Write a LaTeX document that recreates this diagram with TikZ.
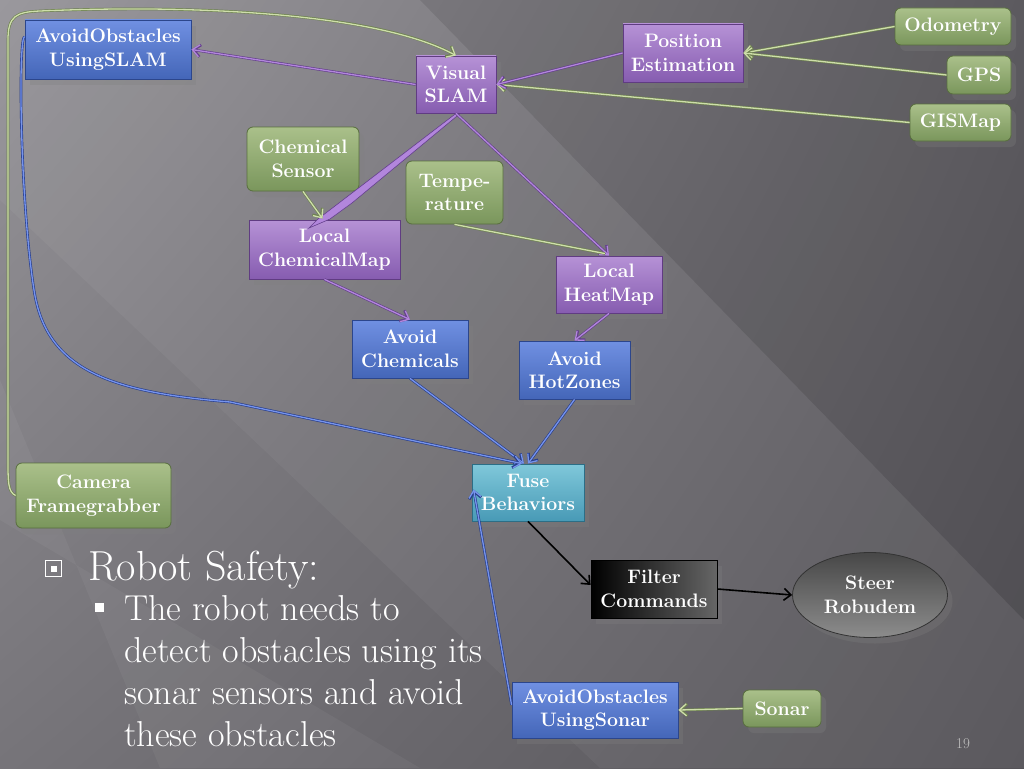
\documentclass[tikz,border=0pt]{standalone}
\usepackage{fontspec}
\usetikzlibrary{shapes.geometric,arrows.meta,shadows,shadings,calc}
\definecolor{bgA}{RGB}{150,148,153}
\definecolor{bgB}{RGB}{118,116,121}
\definecolor{bgC}{RGB}{98,96,101}
\definecolor{bgD}{RGB}{84,82,87}
\definecolor{pTop}{RGB}{182,146,214}
\definecolor{pBot}{RGB}{134,92,176}
\definecolor{pEdge}{RGB}{96,60,130}
\definecolor{bTop}{RGB}{112,144,226}
\definecolor{bBot}{RGB}{68,102,184}
\definecolor{bEdge}{RGB}{44,70,140}
\definecolor{gTop}{RGB}{170,192,138}
\definecolor{gBot}{RGB}{122,150,92}
\definecolor{gEdge}{RGB}{88,110,62}
\definecolor{tTop}{RGB}{128,200,218}
\definecolor{tBot}{RGB}{72,154,182}
\definecolor{tEdge}{RGB}{44,110,134}
\definecolor{lnG}{RGB}{206,222,170}
\definecolor{lnGd}{RGB}{110,130,80}
\definecolor{lnP}{RGB}{178,134,220}
\definecolor{lnPd}{RGB}{100,64,140}
\definecolor{lnB}{RGB}{118,148,236}
\definecolor{lnBd}{RGB}{40,62,140}
\begin{document}
\begin{tikzpicture}[x=1pt,y=-1pt,
  base/.style={minimum height=57pt, inner sep=1pt, align=center, text=white,
    font=\bfseries\fontsize{19.5}{23.5}\selectfont, line width=0.8pt,
    drop shadow={shadow xshift=5pt,shadow yshift=-6pt,opacity=0.3}},
  pbox/.style={base, top color=pTop, bottom color=pBot, draw=pEdge},
  bbox/.style={base, top color=bTop, bottom color=bBot, draw=bEdge},
  gbox/.style={base, top color=gTop, bottom color=gBot, draw=gEdge, rounded corners=6pt},
  tbox/.style={base, top color=tTop, bottom color=tBot, draw=tEdge},
  tip/.style={-{Straight Barb[length=7pt,width=12pt]}},
  gl/.style={draw=lnG, line width=1.3pt, preaction={draw=lnGd, line width=2.6pt}},
  pl/.style={draw=lnP, line width=1.3pt, preaction={draw=lnPd, line width=2.6pt}},
  bl/.style={draw=lnB, line width=1.3pt, preaction={draw=lnBd, line width=2.6pt}},
  kl/.style={draw=black, line width=1.6pt}
]
\useasboundingbox (0,0) rectangle (1024,768);
% background
\shade[upper left=bgA, lower left=bgB, upper right=bgC, lower right=bgD] (0,0) rectangle (1024,768);
\fill[white, opacity=0.045] (0,0) -- (420,0) -- (1024,620) -- (1024,768) -- (600,768) -- (0,200) -- cycle;
\fill[white, opacity=0.045] (0,380) -- (160,768) -- (420,768) -- (0,520) -- cycle;
\fill[black, opacity=0.06] (420,0) -- (1024,0) -- (1024,620) -- cycle;

% nodes
\node[bbox, minimum width=166pt, minimum height=59pt] (aoslam) at (108,49.5) {AvoidObstacles\\UsingSLAM};
\node[pbox, minimum width=80pt] (vs) at (456,84.5) {Visual\\SLAM};
\node[pbox, minimum width=120pt, minimum height=58pt] (pos) at (683,53) {Position\\Estimation};
\node[gbox, minimum width=116pt, minimum height=37pt] (odo) at (953,26.5) {Odometry};
\node[gbox, minimum width=64pt, minimum height=38pt] (gps) at (979,75) {GPS};
\node[gbox, minimum width=101pt, minimum height=37pt] (gis) at (960.5,122.5) {GISMap};
\node[gbox, minimum width=112pt, minimum height=64pt] (cs) at (303,159) {Chemical\\Sensor};
\node[gbox, minimum width=97pt, minimum height=63pt] (temp) at (454.5,192.5) {Tempe-\\rature};
\node[pbox, minimum width=151pt, minimum height=59pt] (lcm) at (324.5,249.5) {Local\\ChemicalMap};
\node[pbox, minimum width=106pt] (lhm) at (609,284.5) {Local\\HeatMap};
\node[bbox, minimum width=116pt, minimum height=58pt] (ac) at (410,349) {Avoid\\Chemicals};
\node[bbox, minimum width=111pt, minimum height=58pt] (ah) at (574.5,370) {Avoid\\HotZones};
\node[tbox, minimum width=112pt] (fuse) at (528,492.5) {Fuse\\Behaviors};
\node[gbox, minimum width=155pt, minimum height=65pt] (cam) at (93.5,495.5) {Camera\\Framegrabber};
\node[base, minimum width=126pt, minimum height=58pt, left color=black, right color=black!60, draw=black] (filt) at (654,589) {Filter\\Commands};
\node[base, ellipse, minimum width=155pt, minimum height=85pt, inner sep=0pt, top color=black!72, bottom color=black!45, draw=black!80] (steer) at (870,595) {Steer\\Robudem};
\node[bbox, minimum width=166pt, minimum height=56pt] (aoson) at (595,710) {AvoidObstacles\\UsingSonar};
\node[gbox, minimum width=78pt, minimum height=37pt] (sonar) at (782,708.5) {Sonar};

% connectors
\draw[gl, tip] (odo.west) -- (pos.east);
\draw[gl, tip] (gps.west) -- (pos.east);
\draw[gl, tip] (gis.west) -- (vs.east);
\draw[pl, tip] (pos.west) -- (vs.east);
\draw[pl, tip] (vs.west) -- (aoslam.east);
\draw[gl, tip] (cam.west) .. controls (8,492) and (8,482) .. (8,460) -- (8,40)
  .. controls (8,16) and (16,12) .. (40,11) .. controls (200,4) and (380,14) .. (vs.north);
\fill[lnP, draw=lnPd, line width=0.6pt] (vs.south) -- ($(vs.south)+(3,1)$) -- (352,203) -- (330,219) -- (309,228) -- (318,219) -- cycle;
\draw[pl, tip] (vs.south) -- (lhm.north);
\draw[gl, tip] (cs.south) -- ($(lcm.north)+(-2,-1)$);
\draw[gl] (temp.south) -- ($(lhm.north)+(-4,-2)$);
\draw[pl, tip] (lcm.south) -- (ac.north);
\draw[pl, tip] (lhm.south) -- (ah.north);
\draw[bl, tip] (ac.south) -- ($(fuse.north)+(-4,0)$);
\draw[bl, tip] (ah.south) -- (fuse.north);
\draw[bl, tip] ($(aoslam.west)+(0,-13)$) .. controls (18,38) and (20,200) .. (34,290)
  .. controls (46,370) and (110,392) .. (230,402) -- ($(fuse.north)+(-6,0)$);
\draw[bl, tip] ($(aoson.west)+(0,-5)$) -- ($(fuse.west)+(2,-3)$);
\draw[kl, tip] (fuse.south) -- ($(filt.west)+(0,-4)$);
\draw[kl, tip] (filt.east) -- (steer.west);
\draw[gl, tip] (sonar.west) -- (aoson.east);

% bullet text
\draw[white, line width=1.5pt] (45.5,560.5) rectangle (61.5,576.5);
\fill[white] (50.5,566) rectangle (56.5,572);
\fill[white] (95,603) rectangle (104,612);
\node[anchor=base west, inner sep=0pt, text=white, font=\fontsize{42}{46}\selectfont] (t1) at (88,580) {Robot Safety:};
\node[anchor=north west, inner sep=0pt, text=white, align=left, font=\fontsize{36}{42}\selectfont] (t2) at (124,595) {The robot needs to\\detect obstacles using its\\sonar sensors and avoid\\these obstacles};
\node[text=black!25, font=\fontsize{15}{18}\selectfont] (pg) at (963,744) {19};
\end{tikzpicture}
\end{document}
